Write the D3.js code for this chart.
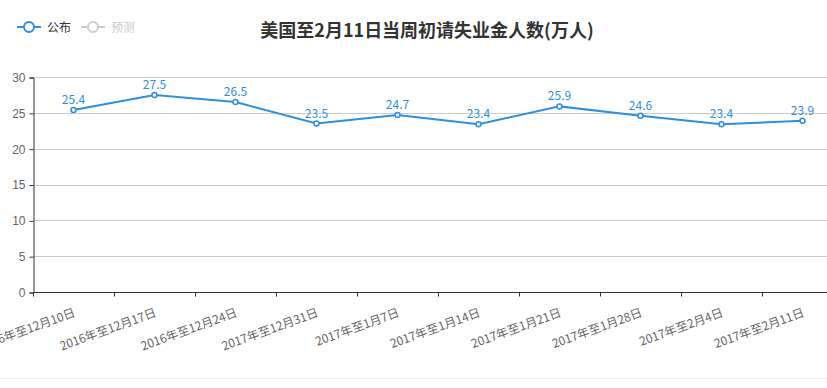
<!DOCTYPE html>
<html>
<head>
<meta charset="utf-8">
<script src="https://d3js.org/d3.v7.min.js"></script>
<style>
  body { margin: 0; background: #fff; overflow: hidden; }
  svg { display: block; font-family: "Noto Sans CJK SC", "Noto Sans", sans-serif; }
</style>
</head>
<body>
<script>
//chart data
var categories = ["2016年至12月10日", "2016年至12月17日", "2016年至12月24日", "2017年至12月31日",
    "2017年至1月7日", "2017年至1月14日", "2017年至1月21日", "2017年至1月28日",
    "2017年至2月4日", "2017年至2月11日"];
var published = [25.4, 27.5, 26.5, 23.5, 24.7, 23.4, 25.9, 24.6, 23.4, 23.9];
var yTicks = [0, 5, 10, 15, 20, 25, 30];
var legendNames = ["公布", "预测"];
var title = "美国至2月11日当周初请失业金人数(万人)";

var width = 827,
    height = 388;
var lineColor = "#2f8fdb";

var svg = d3.select("body")
    .append("svg")
    .attr("width", width)
    .attr("height", height);

//scales - plot runs past the right edge like the original
var x = d3.scaleBand()
    .domain(categories)
    .range([33, 843]);

var y = d3.scaleLinear()
    .domain([0, 30])
    .range([292, 77]);

//grid lines
svg.selectAll(".grid")
    .data(yTicks.filter(function(d){ return d > 0; }))
    .enter()
    .append("line")
    .attr("class", "grid")
    .attr("x1", 33)
    .attr("x2", 843)
    .attr("y1", function(d){ return Math.round(y(d)) + 0.5; })
    .attr("y2", function(d){ return Math.round(y(d)) + 0.5; })
    .attr("stroke", "#ccc")
    .attr("stroke-width", 1);

//y axis
var yAxis = svg.append("g")
    .attr("transform", "translate(33.5,0.5)")
    .call(d3.axisLeft(y).tickValues(yTicks).tickSize(4).tickPadding(4));
yAxis.select(".domain").attr("stroke", "#333");
yAxis.selectAll(".tick line").attr("stroke", "#333");
yAxis.selectAll("text")
    .attr("fill", "#666")
    .style("font-size", "12px");

//x axis with boundary ticks
var xAxis = svg.append("g")
    .attr("transform", "translate(0.5,292.5)");
xAxis.append("line")
    .attr("x1", 33)
    .attr("x2", 843)
    .attr("stroke", "#333");
xAxis.selectAll(".xtick")
    .data(categories)
    .enter()
    .append("line")
    .attr("class", "xtick")
    .attr("x1", function(d){ return Math.round(x(d)); })
    .attr("x2", function(d){ return Math.round(x(d)); })
    .attr("y1", 0)
    .attr("y2", 4)
    .attr("stroke", "#333");
xAxis.selectAll(".xlabel")
    .data(categories)
    .enter()
    .append("text")
    .attr("class", "xlabel")
    .attr("transform", function(d){
        return "translate(" + (x(d) + x.bandwidth() / 2 + 2) + ",23.5) rotate(-20)";
    })
    .attr("text-anchor", "end")
    .attr("fill", "#666")
    .style("font-size", "12px")
    .text(function(d){ return d; });

//line
var line = d3.line()
    .x(function(d, i){ return x(categories[i]) + x.bandwidth() / 2; })
    .y(function(d){ return y(d); });

svg.append("path")
    .datum(published)
    .attr("fill", "none")
    .attr("stroke", lineColor)
    .attr("stroke-width", 2)
    .attr("d", line);

svg.selectAll(".dot")
    .data(published)
    .enter()
    .append("circle")
    .attr("class", "dot")
    .attr("cx", function(d, i){ return x(categories[i]) + x.bandwidth() / 2; })
    .attr("cy", function(d){ return y(d); })
    .attr("r", 2.5)
    .attr("fill", "#fff")
    .attr("stroke", lineColor)
    .attr("stroke-width", 1.5);

svg.selectAll(".val")
    .data(published)
    .enter()
    .append("text")
    .attr("class", "val")
    .attr("x", function(d, i){ return x(categories[i]) + x.bandwidth() / 2; })
    .attr("y", function(d){ return y(d) - 6; })
    .attr("text-anchor", "middle")
    .attr("fill", lineColor)
    .style("font-size", "12px")
    .text(function(d){ return d; });

//title
svg.append("text")
    .attr("x", 427)
    .attr("y", 37)
    .attr("text-anchor", "middle")
    .attr("fill", "#333")
    .style("font-size", "18px")
    .style("font-weight", "bold")
    .text(title);

//legend
var legendColors = [lineColor, "#ccc"];
var legend = svg.selectAll(".legend")
    .data(legendNames)
    .enter()
    .append("g")
    .attr("class", "legend")
    .attr("transform", function(d, i){ return "translate(" + (17 + i * 64) + ",27)"; });
legend.append("line")
    .attr("x1", 0)
    .attr("x2", 24)
    .attr("stroke", function(d, i){ return legendColors[i]; })
    .attr("stroke-width", 2);
legend.append("circle")
    .attr("cx", 12)
    .attr("r", 5)
    .attr("fill", "#fff")
    .attr("stroke", function(d, i){ return legendColors[i]; })
    .attr("stroke-width", 2);
legend.append("text")
    .attr("x", 30)
    .attr("y", 4.5)
    .attr("fill", function(d, i){ return i == 0 ? "#333" : "#ccc"; })
    .style("font-size", "12px")
    .text(function(d){ return d; });

//bottom border
svg.append("line")
    .attr("x1", 0)
    .attr("x2", width)
    .attr("y1", 378.5)
    .attr("y2", 378.5)
    .attr("stroke", "#e6edf2");
</script>
</body>
</html>
